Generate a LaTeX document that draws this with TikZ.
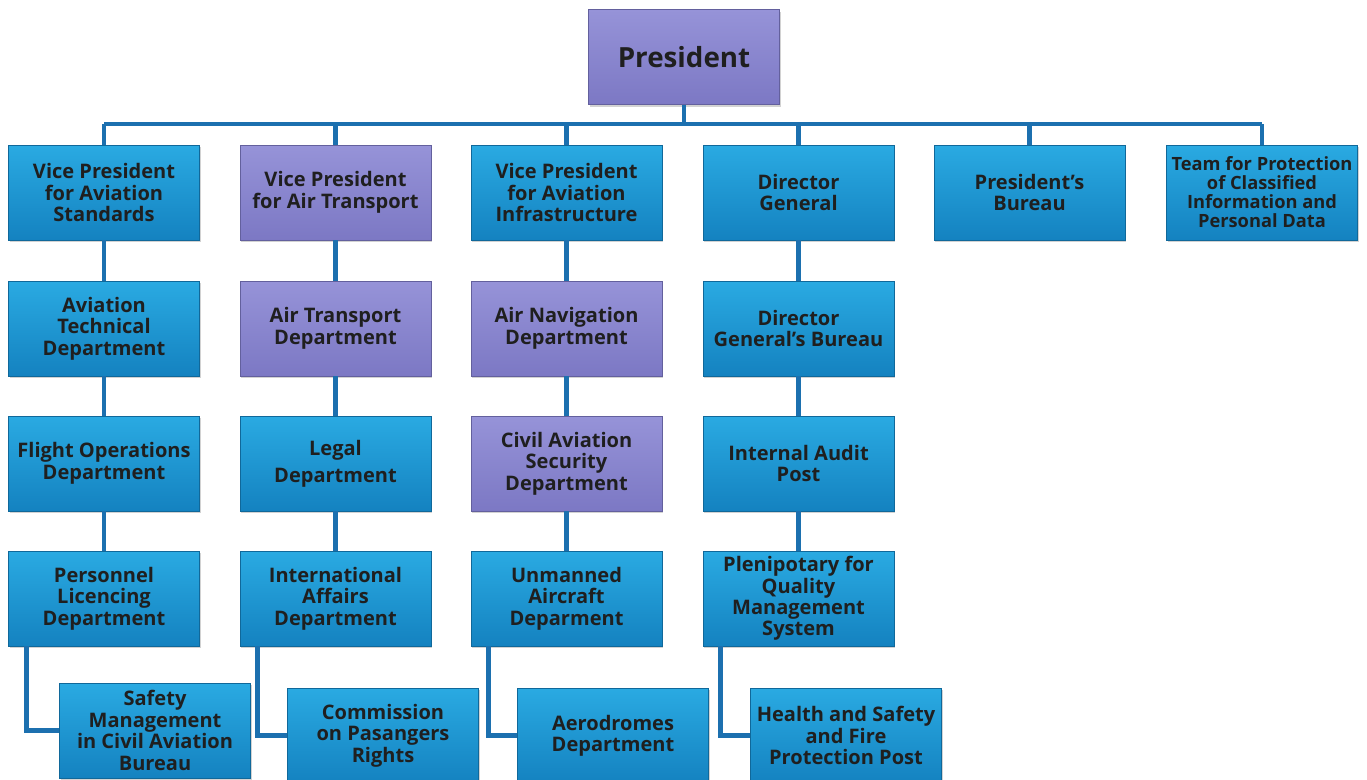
\documentclass[tikz,border=0pt]{standalone}
\usepackage{fontspec}
\setmainfont{Open Sans}
\usetikzlibrary{shadows}
\definecolor{bluetop}{HTML}{2AAAE2}
\definecolor{bluebot}{HTML}{1482C0}
\definecolor{purptop}{HTML}{9693D8}
\definecolor{purpbot}{HTML}{7C78C4}
\definecolor{linkblue}{HTML}{1C70AF}
\tikzset{
  unit/.style={line width=0.5pt, minimum width=3.82cm, minimum height=1.9cm,
    align=center, inner sep=1pt, text=black!88,
    font=\bfseries\fontsize{11.4}{12.2}\selectfont,
    drop shadow={opacity=0.35, shadow xshift=0.8pt, shadow yshift=-1.2pt}},
  bluebox/.style={unit, draw=bluebot!80!black, top color=bluetop, bottom color=bluebot},
  purpbox/.style={unit, draw=purpbot!80!black, top color=purptop, bottom color=purpbot},
  link/.style={draw=linkblue, line width=2.8pt}
}
\begin{document}
\begin{tikzpicture}[x=0.02cm, y=-0.02cm]
    % Page frame
    \fill[white] (0,0) rectangle (1367,779);
    \useasboundingbox (0,0) rectangle (1367,779);
    % Top
    \node[purpbox, font=\bfseries\fontsize{15.8}{18}\selectfont] (pres) at (684,57) {President};
    \coordinate (bus) at (684,124);
    % First row
    \node[bluebox] (vpstd) at (104,192.5) {Vice President\\for Aviation\\Standards};
    \node[purpbox] (vpair) at (335.5,192.5) {Vice President\\for Air Transport};
    \node[bluebox] (vpinf) at (566.5,192.5) {Vice President\\for Aviation\\Infrastructure};
    \node[bluebox] (dirgen) at (798.5,192.5) {Director\\General};
    \node[bluebox] (presbur) at (1029.5,192.5) {President's\\Bureau};
    \node[bluebox, font=\bfseries\fontsize{10.4}{10.8}\selectfont] (team) at (1262,192.5) {Team for Protection\\of Classified\\Information and\\Personal Data};
    % Second row
    \node[bluebox] (avtech) at (104,328.5) {Aviation\\Technical\\Department};
    \node[purpbox] (airtr) at (335.5,328.5) {Air Transport\\Department};
    \node[purpbox] (airnav) at (566.5,328.5) {Air Navigation\\Department};
    \node[bluebox] (dgbur) at (798.5,328.5) {Director\\General's Bureau};
    % Third row
    \node[bluebox] (flops) at (104,463.5) {Flight Operations\\Department};
    \node[bluebox] (legal) at (335.5,463.5) {Legal\\[3pt]Department};
    \node[purpbox] (cavsec) at (566.5,463.5) {Civil Aviation\\Security\\Department};
    \node[bluebox] (audit) at (798.5,463.5) {Internal Audit\\Post};
    % Fourth row
    \node[bluebox] (perlic) at (104,598.5) {Personnel\\Licencing\\Department};
    \node[bluebox] (intaff) at (335.5,598.5) {International\\Affairs\\Department};
    \node[bluebox] (unman) at (566.5,598.5) {Unmanned\\Aircraft\\Deparment};
    \node[bluebox] (qms) at (798.5,598.5) {Plenipotary for\\Quality\\Management\\System};
    % Bottom row
    \node[bluebox] (safety) at (155,730.5) {Safety\\Management\\in Civil Aviation\\Bureau};
    \node[bluebox] (comm) at (383,735.5) {Commission\\on Pasangers\\Rights};
    \node[bluebox] (aero) at (613,735.5) {Aerodromes\\Department};
    \node[bluebox] (health) at (846,735.5) {Health and Safety\\and Fire\\Protection Post};
    % Connectors
    \draw[link] (pres.south) -- (pres.south |- bus);
    \draw[link] (vpstd.north |- bus) -- (team.north |- bus);
    \foreach \n in {vpstd,vpair,vpinf,dirgen,presbur,team}
        \draw[link] (\n.north) -- (\n.north |- bus);
    \foreach \a/\b in {vpstd/avtech,avtech/flops,flops/perlic,
                       vpair/airtr,airtr/legal,legal/intaff,
                       vpinf/airnav,airnav/cavsec,cavsec/unman,
                       dirgen/dgbur,dgbur/audit,audit/qms}
        \draw[link] (\a.south) -- (\b.north);
    \foreach \a/\b in {perlic/safety,intaff/comm,unman/aero,qms/health}
        \draw[link] ([xshift=0.36cm]\a.south west) |- (\b.west);
\end{tikzpicture}
\end{document}
